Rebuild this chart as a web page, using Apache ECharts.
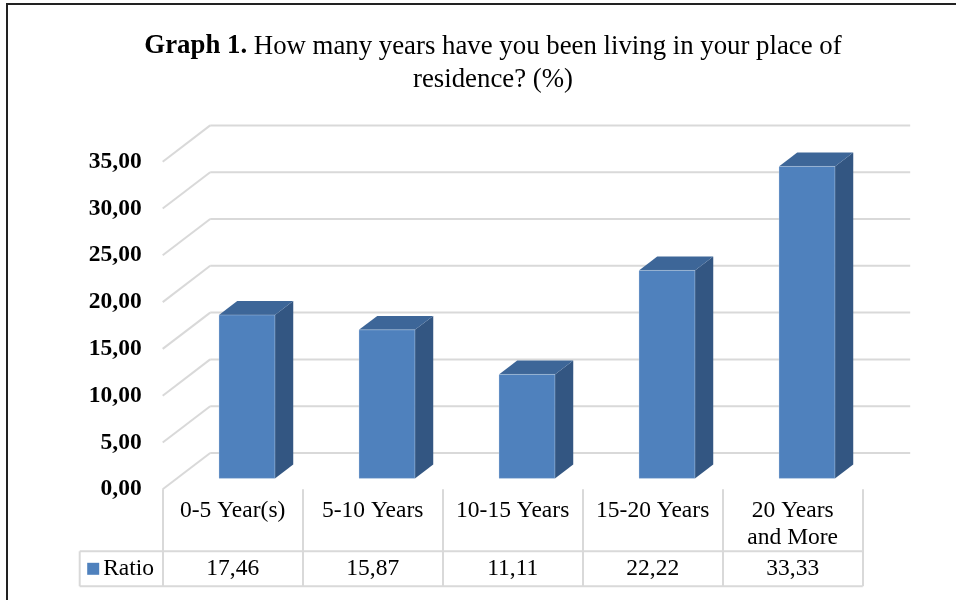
<!DOCTYPE html>
<html>
<head>
<meta charset="utf-8">
<script src="https://cdn.jsdelivr.net/npm/echarts@6/dist/echarts.min.js"></script>
<style>
  html, body { margin: 0; padding: 0; background: #fff; }
  #chart { width: 956px; height: 600px; }
</style>
</head>
<body>
<div id="chart"></div>
<script>
// Survey data: years living in place of residence (%)
var categories = ['0-5 Year(s)', '5-10 Years', '10-15 Years', '15-20 Years', '20 Years\nand More'];
var ratioValues = [17.46, 15.87, 11.11, 22.22, 33.33];
var yTicks = [0, 5, 10, 15, 20, 25, 30, 35];
var seriesName = 'Ratio';

var FONT = 'Liberation Serif';
var CSS_FONT = '"Liberation Serif", "Times New Roman", serif';

// Oblique depth vector of the 3D floor (front edge -> back wall), in pixels
var DEPTH_X = 47.5;
var DEPTH_Y = -36.3;
// Bars occupy this slice of the depth
var BAR_FRONT = 0.30;
var BAR_DEPTH = 0.385;
var BAR_WIDTH = 0.40;

var FRONT_COLOR = '#4F81BD';
var TOP_COLOR = '#3D6698';
var SIDE_COLOR = '#335682';
var GRID_COLOR = '#D9D9D9';
var TABLE_COLOR = '#D9D9D9';

function fmt(v) {
  return v.toFixed(2).replace('.', ',');
}

var chart = echarts.init(document.getElementById('chart'), null, { renderer: 'canvas' });

// Back wall and left wall gridlines
function renderWalls(params, api) {
  var cs = params.coordSys;
  var y = api.coord([0, api.value(0)])[1];
  var x0 = cs.x;
  var x1 = cs.x + cs.width;
  var style = { stroke: GRID_COLOR, lineWidth: 2 };
  return {
    type: 'group',
    children: [
      { type: 'line', shape: { x1: x0, y1: y, x2: x0 + DEPTH_X, y2: y + DEPTH_Y }, style: style },
      { type: 'line', shape: { x1: x0 + DEPTH_X, y1: y + DEPTH_Y, x2: x1 + DEPTH_X, y2: y + DEPTH_Y }, style: style }
    ]
  };
}

// 3D column: front face, top face and right side face
function renderBar(params, api) {
  var idx = api.value(0);
  var val = api.value(1);
  var base = api.coord([idx, 0]);
  var top = api.coord([idx, val]);
  var band = api.size([1, 0])[0];
  var bw = band * BAR_WIDTH;
  var fx = DEPTH_X * BAR_FRONT, fy = DEPTH_Y * BAR_FRONT;
  var dx = DEPTH_X * BAR_DEPTH, dy = DEPTH_Y * BAR_DEPTH;
  var xl = base[0] - bw / 2 + fx;
  var xr = xl + bw;
  var yt = top[1] + fy;
  var yb = base[1] + fy;
  return {
    type: 'group',
    children: [
      {
        type: 'polygon',
        shape: { points: [[xr, yt], [xr + dx, yt + dy], [xr + dx, yb + dy], [xr, yb]] },
        style: { fill: SIDE_COLOR }
      },
      {
        type: 'polygon',
        shape: { points: [[xl, yt], [xl + dx, yt + dy], [xr + dx, yt + dy], [xr, yt]] },
        style: { fill: TOP_COLOR }
      },
      {
        type: 'rect',
        shape: { x: xl, y: yt, width: bw, height: yb - yt },
        style: { fill: FRONT_COLOR, stroke: 'rgba(255,255,255,0.25)', lineWidth: 1 }
      }
    ]
  };
}

// Data table under the plot: legend key cell, value row and borders
var ROW1_H = 62;   // category label row height
var ROW2_H = 35;   // value row height
var KEY_W = 83;    // legend key cell width

function renderTable(params, api) {
  var cs = params.coordSys;
  var idx = api.value(0);
  var val = api.value(1);
  var yTop = cs.y + cs.height;
  var yMid = yTop + ROW1_H;
  var yBot = yMid + ROW2_H;
  var yc = (yMid + yBot) / 2;
  var cx = api.coord([idx, 0])[0];
  var children = [
    {
      type: 'text',
      style: {
        x: cx, y: yc, text: fmt(val),
        font: '23.5px ' + CSS_FONT, fill: '#000',
        align: 'center', verticalAlign: 'middle'
      }
    }
  ];
  if (idx === 0) {
    var style = { stroke: TABLE_COLOR, lineWidth: 2 };
    var xa = cs.x - KEY_W;
    var xb = cs.x + cs.width;
    children.push(
      { type: 'line', shape: { x1: xa, y1: yMid, x2: xb, y2: yMid }, style: style },
      { type: 'line', shape: { x1: xa, y1: yBot, x2: xb, y2: yBot }, style: style },
      { type: 'line', shape: { x1: xa, y1: yMid, x2: xa, y2: yBot }, style: style },
      // legend key
      { type: 'rect', shape: { x: xa + 7.5, y: yc - 6, width: 12, height: 12 }, style: { fill: FRONT_COLOR } },
      {
        type: 'text',
        style: {
          x: xa + 23.5, y: yc, text: seriesName,
          font: '23.5px ' + CSS_FONT, fill: '#000',
          align: 'left', verticalAlign: 'middle'
        }
      }
    );
  }
  return { type: 'group', children: children };
}

var option = {
  backgroundColor: '#fff',
  animation: false,
  title: {
    left: 488,
    top: 25,
    textAlign: 'center',
    text: '{b|Graph 1.} How many years have you been living in your place of\nresidence? (%)',
    textStyle: {
      fontFamily: FONT,
      fontSize: 26.8,
      fontWeight: 'normal',
      color: '#000',
      lineHeight: 33,
      align: 'center',
      rich: {
        b: { fontFamily: FONT, fontSize: 26.8, fontWeight: 'bold', color: '#000', lineHeight: 33 }
      }
    }
  },
  graphic: [
    {
      type: 'rect',
      shape: { x: 7, y: 4, width: 1000, height: 700 },
      style: { fill: 'none', stroke: '#222', lineWidth: 2 },
      silent: true
    }
  ],
  grid: {
    left: 162.7,
    right: 93.3,
    top: 161.7,
    bottom: 110.7,
    containLabel: false
  },
  xAxis: {
    type: 'category',
    data: categories,
    boundaryGap: true,
    axisLine: { show: false },
    axisTick: { show: true, length: 97, lineStyle: { color: TABLE_COLOR, width: 2 } },
    axisLabel: {
      interval: 0,
      margin: 8,
      fontFamily: FONT,
      fontSize: 23.5,
      color: '#000',
      lineHeight: 27,
      verticalAlign: 'top'
    },
    splitLine: { show: false }
  },
  yAxis: {
    type: 'value',
    min: 0,
    max: 35,
    interval: 5,
    axisLine: { show: false },
    axisTick: { show: false },
    splitLine: { show: false },
    axisLabel: {
      margin: 21,
      fontFamily: FONT,
      fontSize: 23.5,
      fontWeight: 'bold',
      color: '#000',
      formatter: function (v) { return fmt(v); }
    }
  },
  series: [
    {
      type: 'custom',
      name: 'walls',
      silent: true,
      clip: false,
      z: 1,
      renderItem: renderWalls,
      encode: { y: 0 },
      data: yTicks.map(function (t) { return [t]; })
    },
    {
      type: 'custom',
      name: seriesName,
      clip: false,
      z: 3,
      itemStyle: { color: FRONT_COLOR },
      renderItem: renderBar,
      encode: { x: 0, y: 1 },
      data: ratioValues.map(function (v, i) { return [i, v]; })
    },
    {
      type: 'custom',
      name: 'table',
      silent: true,
      clip: false,
      z: 2,
      renderItem: renderTable,
      encode: { x: 0, y: 1 },
      data: ratioValues.map(function (v, i) { return [i, v]; })
    }
  ]
};

chart.setOption(option);
</script>
</body>
</html>
